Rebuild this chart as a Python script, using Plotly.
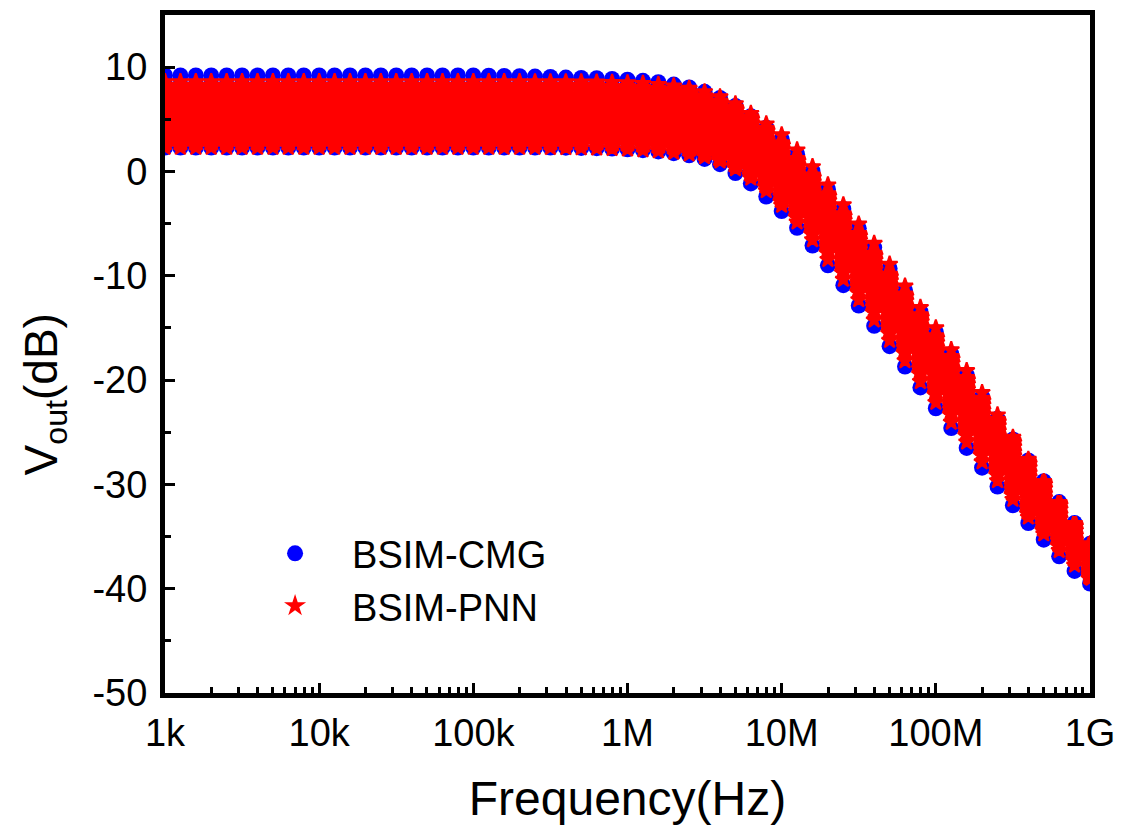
import plotly.graph_objects as go

# Frequency sweep (Hz), 10 points per decade
freq_hz = [
    1.0e3, 1.259e3, 1.585e3, 1.995e3, 2.512e3, 3.162e3, 3.981e3, 5.012e3, 6.31e3, 7.943e3,
    1.0e4, 1.259e4, 1.585e4, 1.995e4, 2.512e4, 3.162e4, 3.981e4, 5.012e4, 6.31e4, 7.943e4,
    1.0e5, 1.259e5, 1.585e5, 1.995e5, 2.512e5, 3.162e5, 3.981e5, 5.012e5, 6.31e5, 7.943e5,
    1.0e6, 1.259e6, 1.585e6, 1.995e6, 2.512e6, 3.162e6, 3.981e6, 5.012e6, 6.31e6, 7.943e6,
    1.0e7, 1.259e7, 1.585e7, 1.995e7, 2.512e7, 3.162e7, 3.981e7, 5.012e7, 6.31e7, 7.943e7,
    1.0e8, 1.259e8, 1.585e8, 1.995e8, 2.512e8, 3.162e8, 3.981e8, 5.012e8, 6.31e8, 7.943e8,
    1.0e9,
]

# BSIM-CMG curves (dB)
cmg_1 = [9.2, 9.2, 9.2, 9.2, 9.2, 9.2, 9.2, 9.2, 9.2, 9.2,
         9.2, 9.2, 9.2, 9.2, 9.2, 9.2, 9.2, 9.2, 9.2, 9.2,
         9.2, 9.18, 9.15, 9.13, 9.1, 9.06, 9.0, 8.97, 8.94, 8.87,
         8.79, 8.69, 8.55, 8.33, 8.06, 7.63, 7.05, 6.28, 5.25, 4.15,
         3.1, 1.65, 0.05, -1.7, -3.6, -5.45, -7.3, -9.3, -11.4, -13.45,
         -15.4, -17.5, -19.5, -21.6, -23.75, -25.9, -28.0, -30.15, -32.25, -34.3,
         -36.1]
cmg_2 = [8.3, 8.3, 8.3, 8.3, 8.3, 8.3, 8.3, 8.3, 8.3, 8.3,
         8.3, 8.3, 8.3, 8.3, 8.3, 8.3, 8.3, 8.3, 8.3, 8.3,
         8.3, 8.3, 8.3, 8.3, 8.3, 8.3, 8.3, 8.3, 8.3, 8.2,
         8.2, 8.1, 8.0, 7.9, 7.7, 7.3, 6.8, 6.2, 5.3, 4.2,
         2.8, 1.3, -0.3, -2.1, -4.0, -5.9, -7.8, -9.8, -11.7, -13.7,
         -15.7, -17.7, -19.7, -21.7, -23.7, -25.7, -27.7, -29.7, -31.7, -33.7,
         -35.7]
cmg_3 = [7.3, 7.3, 7.3, 7.3, 7.3, 7.3, 7.3, 7.3, 7.3, 7.3,
         7.3, 7.3, 7.3, 7.3, 7.3, 7.3, 7.3, 7.3, 7.3, 7.3,
         7.3, 7.3, 7.3, 7.3, 7.3, 7.3, 7.3, 7.3, 7.3, 7.2,
         7.2, 7.1, 7.0, 6.9, 6.7, 6.3, 5.8, 5.2, 4.3, 3.2,
         1.8, 0.3, -1.3, -3.1, -5.0, -6.9, -8.8, -10.8, -12.7, -14.7,
         -16.7, -18.7, -20.7, -22.7, -24.7, -26.7, -28.7, -30.7, -32.7, -34.7,
         -36.7]
cmg_4 = [6.3, 6.3, 6.3, 6.3, 6.3, 6.3, 6.3, 6.3, 6.3, 6.3,
         6.3, 6.3, 6.3, 6.3, 6.3, 6.3, 6.3, 6.3, 6.3, 6.3,
         6.3, 6.3, 6.3, 6.3, 6.3, 6.3, 6.3, 6.3, 6.3, 6.2,
         6.2, 6.1, 6.0, 5.9, 5.7, 5.3, 4.8, 4.2, 3.3, 2.2,
         0.8, -0.7, -2.3, -4.1, -6.0, -7.9, -9.8, -11.8, -13.7, -15.7,
         -17.7, -19.7, -21.7, -23.7, -25.7, -27.7, -29.7, -31.7, -33.7, -35.7,
         -37.7]
cmg_5 = [5.3, 5.3, 5.3, 5.3, 5.3, 5.3, 5.3, 5.3, 5.3, 5.3,
         5.3, 5.3, 5.3, 5.3, 5.3, 5.3, 5.3, 5.3, 5.3, 5.3,
         5.3, 5.3, 5.3, 5.3, 5.3, 5.3, 5.3, 5.3, 5.3, 5.2,
         5.2, 5.1, 5.0, 4.9, 4.7, 4.3, 3.8, 3.2, 2.3, 1.2,
         -0.2, -1.7, -3.3, -5.1, -7.0, -8.9, -10.8, -12.8, -14.7, -16.7,
         -18.7, -20.7, -22.7, -24.7, -26.7, -28.7, -30.7, -32.7, -34.7, -36.7,
         -38.7]
cmg_6 = [4.3, 4.3, 4.3, 4.3, 4.3, 4.3, 4.3, 4.3, 4.3, 4.3,
         4.3, 4.3, 4.3, 4.3, 4.3, 4.3, 4.3, 4.3, 4.3, 4.3,
         4.3, 4.3, 4.3, 4.3, 4.3, 4.3, 4.3, 4.3, 4.3, 4.2,
         4.2, 4.1, 4.0, 3.9, 3.7, 3.3, 2.8, 2.2, 1.3, 0.2,
         -1.2, -2.7, -4.3, -6.1, -8.0, -9.9, -11.8, -13.8, -15.7, -17.7,
         -19.7, -21.6, -23.6, -25.5, -27.4, -29.3, -31.1, -32.7, -34.2, -35.6,
         -36.7]
cmg_7 = [3.3, 3.3, 3.3, 3.3, 3.3, 3.3, 3.3, 3.3, 3.3, 3.3,
         3.3, 3.3, 3.3, 3.3, 3.3, 3.3, 3.3, 3.3, 3.3, 3.3,
         3.3, 3.3, 3.3, 3.3, 3.3, 3.3, 3.3, 3.3, 3.3, 3.2,
         3.2, 3.1, 3.0, 2.9, 2.7, 2.3, 1.8, 1.2, 0.3, -0.8,
         -2.2, -3.7, -5.3, -7.1, -9.0, -10.9, -12.8, -14.8, -16.7, -18.7,
         -20.7, -22.6, -24.6, -26.5, -28.4, -30.3, -32.1, -33.7, -35.2, -36.6,
         -37.7]
cmg_8 = [2.3, 2.3, 2.3, 2.3, 2.3, 2.3, 2.3, 2.3, 2.3, 2.3,
         2.3, 2.3, 2.3, 2.3, 2.3, 2.3, 2.3, 2.3, 2.3, 2.3,
         2.3, 2.3, 2.3, 2.3, 2.3, 2.29, 2.28, 2.26, 2.23, 2.19,
         2.13, 2.04, 1.92, 1.75, 1.55, 1.2, 0.7, -0.15, -1.15, -2.4,
         -3.8, -5.4, -7.1, -9.0, -10.9, -12.85, -14.8, -16.75, -18.7, -20.7,
         -22.7, -24.6, -26.5, -28.4, -30.2, -32.0, -33.7, -35.3, -36.9, -38.3,
         -39.5]

# BSIM-PNN curves (dB)
pnn_1 = [8.6, 8.6, 8.6, 8.6, 8.6, 8.6, 8.6, 8.6, 8.6, 8.6,
         8.6, 8.6, 8.6, 8.6, 8.6, 8.6, 8.6, 8.6, 8.6, 8.6,
         8.6, 8.6, 8.6, 8.6, 8.59, 8.59, 8.58, 8.57, 8.56, 8.53,
         8.49, 8.43, 8.33, 8.19, 7.96, 7.63, 7.15, 6.48, 5.55, 4.55,
         3.5, 2.05, 0.45, -1.3, -3.2, -5.05, -6.9, -8.9, -11.0, -13.05,
         -15.0, -17.1, -19.1, -21.2, -23.35, -25.5, -27.6, -29.75, -31.85, -33.9,
         -35.7]
pnn_2 = [8.1, 8.1, 8.1, 8.1, 8.1, 8.1, 8.1, 8.1, 8.1, 8.1,
         8.1, 8.1, 8.1, 8.1, 8.1, 8.1, 8.1, 8.1, 8.1, 8.1,
         8.1, 8.1, 8.1, 8.1, 8.1, 8.1, 8.1, 8.1, 8.1, 8.0,
         8.0, 7.9, 7.8, 7.7, 7.5, 7.1, 6.6, 6.0, 5.1, 4.0,
         2.6, 1.1, -0.5, -2.3, -4.2, -6.1, -8.0, -10.0, -11.9, -13.9,
         -15.9, -17.9, -19.9, -21.9, -23.9, -25.9, -27.9, -29.9, -31.9, -33.9,
         -35.9]
pnn_3 = [7.7, 7.7, 7.7, 7.7, 7.7, 7.7, 7.7, 7.7, 7.7, 7.7,
         7.7, 7.7, 7.7, 7.7, 7.7, 7.7, 7.7, 7.7, 7.7, 7.7,
         7.7, 7.7, 7.7, 7.7, 7.7, 7.7, 7.7, 7.7, 7.7, 7.6,
         7.6, 7.5, 7.4, 7.3, 7.1, 6.7, 6.2, 5.6, 4.7, 3.6,
         2.2, 0.7, -0.9, -2.7, -4.6, -6.5, -8.4, -10.4, -12.3, -14.3,
         -16.3, -18.3, -20.3, -22.3, -24.3, -26.3, -28.3, -30.3, -32.3, -34.3,
         -36.3]
pnn_4 = [7.2, 7.2, 7.2, 7.2, 7.2, 7.2, 7.2, 7.2, 7.2, 7.2,
         7.2, 7.2, 7.2, 7.2, 7.2, 7.2, 7.2, 7.2, 7.2, 7.2,
         7.2, 7.2, 7.2, 7.2, 7.2, 7.2, 7.2, 7.2, 7.2, 7.1,
         7.1, 7.0, 6.9, 6.8, 6.6, 6.2, 5.7, 5.1, 4.2, 3.1,
         1.7, 0.2, -1.4, -3.2, -5.1, -7.0, -8.9, -10.9, -12.8, -14.8,
         -16.8, -18.8, -20.8, -22.8, -24.8, -26.8, -28.8, -30.8, -32.8, -34.8,
         -36.8]
pnn_5 = [6.8, 6.8, 6.8, 6.8, 6.8, 6.8, 6.8, 6.8, 6.8, 6.8,
         6.8, 6.8, 6.8, 6.8, 6.8, 6.8, 6.8, 6.8, 6.8, 6.8,
         6.8, 6.8, 6.8, 6.8, 6.8, 6.8, 6.8, 6.8, 6.8, 6.7,
         6.7, 6.6, 6.5, 6.4, 6.2, 5.8, 5.3, 4.7, 3.8, 2.7,
         1.3, -0.2, -1.8, -3.6, -5.5, -7.4, -9.3, -11.3, -13.2, -15.2,
         -17.2, -19.2, -21.2, -23.2, -25.2, -27.2, -29.2, -31.2, -33.2, -35.2,
         -37.2]
pnn_6 = [6.3, 6.3, 6.3, 6.3, 6.3, 6.3, 6.3, 6.3, 6.3, 6.3,
         6.3, 6.3, 6.3, 6.3, 6.3, 6.3, 6.3, 6.3, 6.3, 6.3,
         6.3, 6.3, 6.3, 6.3, 6.3, 6.3, 6.3, 6.3, 6.3, 6.2,
         6.2, 6.1, 6.0, 5.9, 5.7, 5.3, 4.8, 4.2, 3.3, 2.2,
         0.8, -0.7, -2.3, -4.1, -6.0, -7.9, -9.8, -11.8, -13.7, -15.7,
         -17.7, -19.7, -21.7, -23.7, -25.7, -27.7, -29.7, -31.7, -33.7, -35.7,
         -37.7]
pnn_7 = [5.9, 5.9, 5.9, 5.9, 5.9, 5.9, 5.9, 5.9, 5.9, 5.9,
         5.9, 5.9, 5.9, 5.9, 5.9, 5.9, 5.9, 5.9, 5.9, 5.9,
         5.9, 5.9, 5.9, 5.9, 5.9, 5.9, 5.9, 5.9, 5.9, 5.8,
         5.8, 5.7, 5.6, 5.5, 5.3, 4.9, 4.4, 3.8, 2.9, 1.8,
         0.4, -1.1, -2.7, -4.5, -6.4, -8.3, -10.2, -12.2, -14.1, -16.1,
         -18.1, -20.1, -22.1, -24.1, -26.1, -28.1, -30.1, -32.1, -34.1, -36.1,
         -38.1]
pnn_8 = [5.4, 5.4, 5.4, 5.4, 5.4, 5.4, 5.4, 5.4, 5.4, 5.4,
         5.4, 5.4, 5.4, 5.4, 5.4, 5.4, 5.4, 5.4, 5.4, 5.4,
         5.4, 5.4, 5.4, 5.4, 5.4, 5.4, 5.4, 5.4, 5.4, 5.3,
         5.3, 5.2, 5.1, 5.0, 4.8, 4.4, 3.9, 3.3, 2.4, 1.3,
         -0.1, -1.6, -3.2, -5.0, -6.9, -8.8, -10.7, -12.7, -14.6, -16.6,
         -18.6, -20.6, -22.6, -24.6, -26.6, -28.6, -30.6, -32.6, -34.6, -36.6,
         -38.6]
pnn_9 = [5.0, 5.0, 5.0, 5.0, 5.0, 5.0, 5.0, 5.0, 5.0, 5.0,
         5.0, 5.0, 5.0, 5.0, 5.0, 5.0, 5.0, 5.0, 5.0, 5.0,
         5.0, 5.0, 5.0, 5.0, 5.0, 5.0, 5.0, 5.0, 5.0, 4.9,
         4.9, 4.8, 4.7, 4.6, 4.4, 4.0, 3.5, 2.9, 2.0, 0.9,
         -0.5, -2.0, -3.6, -5.4, -7.3, -9.2, -11.1, -13.1, -15.0, -17.0,
         -19.0, -21.0, -23.0, -25.0, -27.0, -29.0, -31.0, -33.0, -35.0, -37.0,
         -38.9]
pnn_10 = [4.5, 4.5, 4.5, 4.5, 4.5, 4.5, 4.5, 4.5, 4.5, 4.5,
          4.5, 4.5, 4.5, 4.5, 4.5, 4.5, 4.5, 4.5, 4.5, 4.5,
          4.5, 4.5, 4.5, 4.5, 4.5, 4.5, 4.5, 4.5, 4.5, 4.4,
          4.4, 4.3, 4.2, 4.1, 3.9, 3.5, 3.0, 2.4, 1.5, 0.4,
          -1.0, -2.5, -4.1, -5.9, -7.8, -9.7, -11.6, -13.6, -15.5, -17.5,
          -19.5, -21.4, -23.4, -25.3, -27.2, -29.1, -30.9, -32.5, -34.0, -35.4,
          -36.5]
pnn_11 = [4.1, 4.1, 4.1, 4.1, 4.1, 4.1, 4.1, 4.1, 4.1, 4.1,
          4.1, 4.1, 4.1, 4.1, 4.1, 4.1, 4.1, 4.1, 4.1, 4.1,
          4.1, 4.1, 4.1, 4.1, 4.1, 4.1, 4.1, 4.1, 4.1, 4.0,
          4.0, 3.9, 3.8, 3.7, 3.5, 3.1, 2.6, 2.0, 1.1, 0.0,
          -1.4, -2.9, -4.5, -6.3, -8.2, -10.1, -12.0, -14.0, -15.9, -17.9,
          -19.9, -21.8, -23.8, -25.7, -27.6, -29.5, -31.3, -32.9, -34.4, -35.8,
          -36.9]
pnn_12 = [3.6, 3.6, 3.6, 3.6, 3.6, 3.6, 3.6, 3.6, 3.6, 3.6,
          3.6, 3.6, 3.6, 3.6, 3.6, 3.6, 3.6, 3.6, 3.6, 3.6,
          3.6, 3.6, 3.6, 3.6, 3.6, 3.6, 3.6, 3.6, 3.6, 3.5,
          3.5, 3.4, 3.3, 3.2, 3.0, 2.6, 2.1, 1.5, 0.6, -0.5,
          -1.9, -3.4, -5.0, -6.8, -8.7, -10.6, -12.5, -14.5, -16.4, -18.4,
          -20.4, -22.3, -24.3, -26.2, -28.1, -30.0, -31.8, -33.4, -34.9, -36.3,
          -37.4]
pnn_13 = [3.2, 3.2, 3.2, 3.2, 3.2, 3.2, 3.2, 3.2, 3.2, 3.2,
          3.2, 3.2, 3.2, 3.2, 3.2, 3.2, 3.2, 3.2, 3.2, 3.2,
          3.2, 3.2, 3.2, 3.2, 3.2, 3.2, 3.2, 3.2, 3.2, 3.1,
          3.1, 3.0, 2.9, 2.8, 2.6, 2.2, 1.7, 1.1, 0.2, -0.9,
          -2.3, -3.8, -5.4, -7.2, -9.1, -11.0, -12.9, -14.9, -16.8, -18.8,
          -20.8, -22.7, -24.7, -26.6, -28.5, -30.4, -32.2, -33.8, -35.3, -36.7,
          -37.8]
pnn_14 = [2.7, 2.7, 2.7, 2.7, 2.7, 2.7, 2.7, 2.7, 2.7, 2.7,
          2.7, 2.7, 2.7, 2.7, 2.7, 2.7, 2.7, 2.7, 2.7, 2.7,
          2.7, 2.7, 2.7, 2.7, 2.7, 2.7, 2.7, 2.7, 2.7, 2.6,
          2.6, 2.5, 2.4, 2.3, 2.1, 1.7, 1.2, 0.6, -0.3, -1.4,
          -2.8, -4.3, -5.9, -7.7, -9.6, -11.5, -13.4, -15.4, -17.3, -19.3,
          -21.3, -23.2, -25.2, -27.1, -29.0, -30.9, -32.7, -34.3, -35.8, -37.2,
          -38.3]
pnn_15 = [2.3, 2.3, 2.3, 2.3, 2.3, 2.3, 2.3, 2.3, 2.3, 2.3,
          2.3, 2.3, 2.3, 2.3, 2.3, 2.3, 2.3, 2.3, 2.3, 2.3,
          2.3, 2.3, 2.3, 2.3, 2.3, 2.29, 2.28, 2.26, 2.23, 2.19,
          2.13, 2.06, 1.97, 1.83, 1.67, 1.4, 1.0, 0.25, -0.65, -1.85,
          -3.25, -4.85, -6.55, -8.45, -10.35, -12.3, -14.25, -16.2, -18.15, -20.15,
          -22.15, -24.05, -25.95, -27.85, -29.65, -31.45, -33.15, -34.75, -36.35, -37.75,
          -38.95]

cmg_curves = [cmg_1, cmg_2, cmg_3, cmg_4, cmg_5, cmg_6, cmg_7, cmg_8]
pnn_curves = [pnn_1, pnn_2, pnn_3, pnn_4, pnn_5, pnn_6, pnn_7, pnn_8,
              pnn_9, pnn_10, pnn_11, pnn_12, pnn_13, pnn_14, pnn_15]
for c in cmg_curves + pnn_curves:
    assert len(c) == len(freq_hz), len(c)

x_tick_vals = [1e3, 1e4, 1e5, 1e6, 1e7, 1e8, 1e9]
x_tick_text = ["1k", "10k", "100k", "1M", "10M", "100M", "1G"]
y_tick_vals = [-50, -40, -30, -20, -10, 0, 10]
y_tick_text = ["-50", "-40", "-30", "-20", "-10", "0", "10"]
y_minor_vals = [-45, -35, -25, -15, -5, 5]
x_minor_vals = [m * 10 ** e for e in range(3, 9) for m in range(2, 10)]

FONT = "Arial, Liberation Sans, sans-serif"

fig = go.Figure()
for i, c in enumerate(cmg_curves):
    fig.add_trace(go.Scatter(
        x=freq_hz, y=c, mode="markers", name="BSIM-CMG",
        legendgroup="cmg", showlegend=(i == 0),
        marker=dict(symbol="circle", size=16, color="#0000FF"),
    ))
n_pnn = len(pnn_curves)
for i, c in enumerate(pnn_curves):
    edge = (i == 0 or i == n_pnn - 1)
    fig.add_trace(go.Scatter(
        x=freq_hz, y=c, mode="markers", name="BSIM-PNN",
        legendgroup="pnn", showlegend=(i == 0),
        marker=dict(symbol="star", size=12, color="#FF0000",
                    line=dict(width=2 if edge else 5, color="#FF0000")),
    ))

axis_common = dict(
    showline=True, linewidth=5, linecolor="black", mirror=True,
    showgrid=False, zeroline=False,
    ticks="inside", ticklen=10, tickwidth=3, tickcolor="black",
    tickfont=dict(family=FONT, size=38, color="black"),
)

fig.update_xaxes(
    type="log", range=[3, 9],
    tickmode="array", tickvals=x_tick_vals, ticktext=x_tick_text,
    ticklabelstandoff=2,
    minor=dict(tickmode="array", tickvals=x_minor_vals, ticks="inside",
               ticklen=6, tickwidth=3, tickcolor="black", showgrid=False),
    title=dict(text="Frequency(Hz)", font=dict(family=FONT, size=48, color="black"),
               standoff=30),
    **axis_common,
)
fig.update_yaxes(
    range=[-50, 15],
    tickmode="array", tickvals=y_tick_vals, ticktext=y_tick_text,
    ticklabelstandoff=5,
    minor=dict(tickmode="array", tickvals=y_minor_vals, ticks="inside",
               ticklen=6, tickwidth=3, tickcolor="black", showgrid=False),
    **axis_common,
)

fig.add_annotation(
    text="V<sub>out</sub>(dB)", textangle=-90,
    xref="paper", yref="paper", x=-0.13, y=0.44,
    xanchor="center", yanchor="middle", showarrow=False,
    font=dict(family=FONT, size=46, color="black"),
)

fig.update_layout(
    width=1139, height=827,
    margin=dict(l=165, r=49, t=10, b=134),
    paper_bgcolor="white", plot_bgcolor="white",
    font=dict(family=FONT, color="black"),
    showlegend=True,
    legend=dict(x=0.079, y=0.252, xanchor="left", yanchor="top",
                font=dict(family=FONT, size=38, color="black"),
                itemwidth=104, bgcolor="rgba(0,0,0,0)", borderwidth=0,
                traceorder="normal", tracegroupgap=0),
)

fig.write_html("out.html")
